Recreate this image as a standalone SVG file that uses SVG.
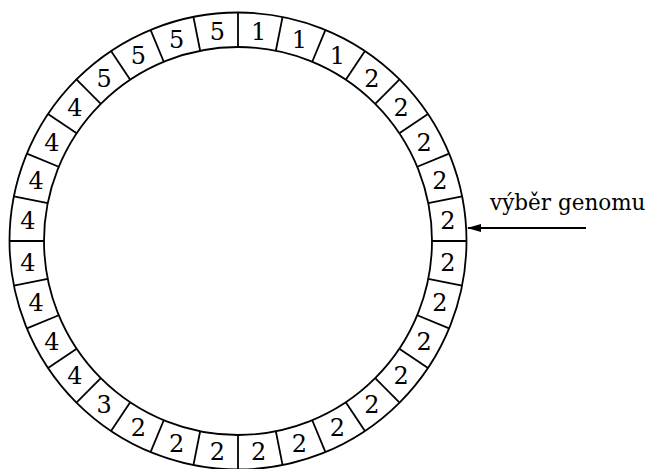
<svg xmlns="http://www.w3.org/2000/svg" xmlns:xlink="http://www.w3.org/1999/xlink" width="653" height="469" viewBox="0 0 653 469">
<style>
.ring{fill:none;stroke:#000;stroke-width:1.8}
.div{stroke:#000;stroke-width:1.8}
.n{font-family:'DejaVu Serif',serif;font-size:24px;fill:#000;text-anchor:middle}
.lbl{font-family:'DejaVu Serif',serif;font-size:21.5px;fill:#000}
.arr{stroke:#000;stroke-width:2}
</style>
<defs>
<line id="d" class="div" x1="238" y1="12.5" x2="238" y2="47"/>
<marker id="ah" markerWidth="14" markerHeight="8" refX="13" refY="4" orient="auto" markerUnits="userSpaceOnUse">
<path d="M0,0 L14,4 L0,8 Z" fill="#000"/>
</marker>
</defs>
<g id="wheel">
<circle class="ring" cx="238" cy="241" r="228.5"/>
<circle class="ring" cx="238" cy="241" r="194"/>
</g>
<g id="dividers">
<use xlink:href="#d"/>
<use xlink:href="#d" transform="rotate(11.25 238 241)"/>
<use xlink:href="#d" transform="rotate(22.5 238 241)"/>
<use xlink:href="#d" transform="rotate(33.75 238 241)"/>
<use xlink:href="#d" transform="rotate(45 238 241)"/>
<use xlink:href="#d" transform="rotate(56.25 238 241)"/>
<use xlink:href="#d" transform="rotate(67.5 238 241)"/>
<use xlink:href="#d" transform="rotate(78.75 238 241)"/>
<use xlink:href="#d" transform="rotate(90 238 241)"/>
<use xlink:href="#d" transform="rotate(101.25 238 241)"/>
<use xlink:href="#d" transform="rotate(112.5 238 241)"/>
<use xlink:href="#d" transform="rotate(123.75 238 241)"/>
<use xlink:href="#d" transform="rotate(135 238 241)"/>
<use xlink:href="#d" transform="rotate(146.25 238 241)"/>
<use xlink:href="#d" transform="rotate(157.5 238 241)"/>
<use xlink:href="#d" transform="rotate(168.75 238 241)"/>
<use xlink:href="#d" transform="rotate(180 238 241)"/>
<use xlink:href="#d" transform="rotate(191.25 238 241)"/>
<use xlink:href="#d" transform="rotate(202.5 238 241)"/>
<use xlink:href="#d" transform="rotate(213.75 238 241)"/>
<use xlink:href="#d" transform="rotate(225 238 241)"/>
<use xlink:href="#d" transform="rotate(236.25 238 241)"/>
<use xlink:href="#d" transform="rotate(247.5 238 241)"/>
<use xlink:href="#d" transform="rotate(258.75 238 241)"/>
<use xlink:href="#d" transform="rotate(270 238 241)"/>
<use xlink:href="#d" transform="rotate(281.25 238 241)"/>
<use xlink:href="#d" transform="rotate(292.5 238 241)"/>
<use xlink:href="#d" transform="rotate(303.75 238 241)"/>
<use xlink:href="#d" transform="rotate(315 238 241)"/>
<use xlink:href="#d" transform="rotate(326.25 238 241)"/>
<use xlink:href="#d" transform="rotate(337.5 238 241)"/>
<use xlink:href="#d" transform="rotate(348.75 238 241)"/>
</g>
<g id="labels">
<text class="n" x="258.7" y="40">1</text>
<text class="n" x="299.3" y="48.1">1</text>
<text class="n" x="337.5" y="63.9">1</text>
<text class="n" x="371.9" y="86.9">2</text>
<text class="n" x="401.1" y="116.1">2</text>
<text class="n" x="424.1" y="150.5">2</text>
<text class="n" x="439.9" y="188.7">2</text>
<text class="n" x="448" y="229.3">2</text>
<text class="n" x="448" y="270.7">2</text>
<text class="n" x="439.9" y="311.3">2</text>
<text class="n" x="424.1" y="349.5">2</text>
<text class="n" x="401.1" y="383.9">2</text>
<text class="n" x="371.9" y="413.1">2</text>
<text class="n" x="337.5" y="436.1">2</text>
<text class="n" x="299.3" y="451.9">2</text>
<text class="n" x="258.7" y="460">2</text>
<text class="n" x="217.3" y="460">2</text>
<text class="n" x="176.7" y="451.9">2</text>
<text class="n" x="138.5" y="436.1">2</text>
<text class="n" x="104.1" y="413.1">3</text>
<text class="n" x="74.9" y="383.9">4</text>
<text class="n" x="51.9" y="349.5">4</text>
<text class="n" x="36.1" y="311.3">4</text>
<text class="n" x="28" y="270.7">4</text>
<text class="n" x="28" y="229.3">4</text>
<text class="n" x="36.1" y="188.7">4</text>
<text class="n" x="51.9" y="150.5">4</text>
<text class="n" x="74.9" y="116.1">4</text>
<text class="n" x="104.1" y="86.9">5</text>
<text class="n" x="138.5" y="63.9">5</text>
<text class="n" x="176.7" y="48.1">5</text>
<text class="n" x="217.3" y="40">5</text>
</g>
<g id="pointer">
<line class="arr" x1="586" y1="228" x2="468" y2="228" marker-end="url(#ah)"/>
<text class="lbl" x="490" y="210">výběr genomu</text>
</g>
</svg>
